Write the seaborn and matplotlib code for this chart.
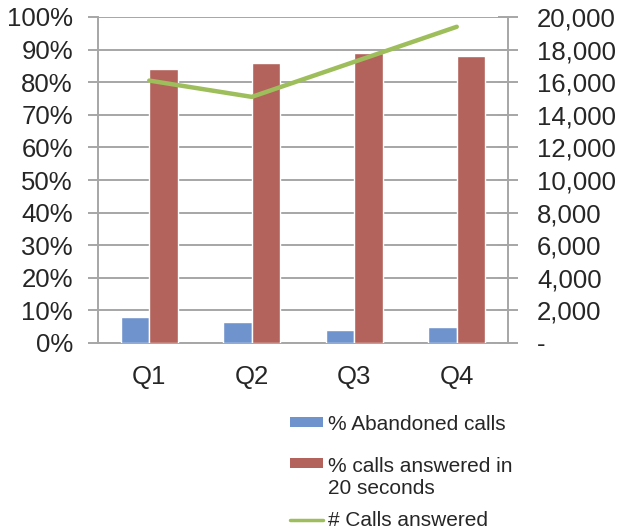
import matplotlib
matplotlib.use("Agg")
import matplotlib.pyplot as plt
import matplotlib.ticker as mticker
from matplotlib.patches import Rectangle
from matplotlib.lines import Line2D
import numpy as np
import pandas as pd
import seaborn as sns

# Quarterly call-centre figures
quarters = ["Q1", "Q2", "Q3", "Q4"]
abandoned_pct = [7.9, 6.3, 4.0, 4.8]
answered_20s_pct = [84, 86, 89, 88]
calls_answered = [16100, 15100, 17250, 19400]

series_abandoned = "% Abandoned calls"
series_answered = "% calls answered in\n20 seconds"
series_calls = "# Calls answered"

BLUE = "#6F94CD"
RED = "#B4625C"
GREEN = "#9DBE5A"
GRID = "#A6A6A6"
TEXT = "#262626"

sns.set_theme(style="white")
plt.rcParams["font.family"] = ["Liberation Sans", "DejaVu Sans"]

bars = pd.DataFrame({
    "quarter": quarters * 2,
    "series": [series_abandoned] * 4 + [series_answered] * 4,
    "value": abandoned_pct + answered_20s_pct,
})

W, H = 623, 531
fig = plt.figure(figsize=(W / 100, H / 100), dpi=100)
ax = fig.add_axes([98 / W, 1 - 343 / H, (508 - 98) / W, (343 - 17) / H])

sns.barplot(data=bars, x="quarter", y="value", hue="series",
            palette=[BLUE, RED], width=0.56, gap=0, saturation=1,
            legend=False, ax=ax, zorder=3)

ax.set_xlim(-0.5, 3.5)
ax.set_ylim(0, 100)
ax.set_xlabel("")
ax.set_ylabel("")
ax.yaxis.set_major_locator(mticker.MultipleLocator(10))
ax.yaxis.set_major_formatter(mticker.FuncFormatter(lambda v, p: f"{v:.0f}%"))
ax.grid(axis="y", color=GRID, linewidth=1.4, zorder=0)
ax.set_axisbelow(True)

# category boundaries carry the tick marks, labels sit in the middle
ax.set_xticks(range(len(quarters)))
ax.set_xticklabels(quarters)
ax.set_xticks(np.arange(-0.5, len(quarters)), minor=True)
ax.tick_params(axis="x", which="major", length=0, pad=16, labelsize=18.5, labelcolor=TEXT)
ax.tick_params(axis="x", which="minor", length=7, width=1.4, color=GRID, direction="out")
ax.tick_params(axis="y", length=7, width=1.4, color=GRID, direction="out",
               labelsize=18.5, labelcolor=TEXT, pad=11)

for side in ["top", "right"]:
    ax.spines[side].set_visible(False)
for side in ["left", "bottom"]:
    ax.spines[side].set_color(GRID)
    ax.spines[side].set_linewidth(1.4)

ax2 = ax.twinx()
sns.lineplot(x=np.arange(len(quarters)), y=calls_answered, color=GREEN,
             linewidth=3.2, ax=ax2)
ax2.set_ylim(0, 20000)
ax2.yaxis.set_major_locator(mticker.MultipleLocator(2000))
ax2.yaxis.set_major_formatter(
    mticker.FuncFormatter(lambda v, p: "-" if v == 0 else f"{v:,.0f}"))
ax2.tick_params(axis="y", length=14, width=1.4, color=GRID, direction="inout",
                labelsize=18.5, labelcolor=TEXT, pad=14)
for side in ["top", "left", "bottom"]:
    ax2.spines[side].set_visible(False)
ax2.spines["right"].set_color(GRID)
ax2.spines["right"].set_linewidth(1.4)
ax2.set_xlim(-0.5, 3.5)


# legend below the plot, keys aligned with the first line of each label
def fx(px):
    return px / W


def fy(py):
    return 1 - py / H


key_x0, key_x1, text_x = 290, 323, 328
fig.add_artist(Rectangle((fx(key_x0), fy(427)), fx(key_x1 - key_x0), 10 / H,
                         transform=fig.transFigure, facecolor=BLUE, edgecolor="none"))
fig.text(fx(text_x), fy(424), series_abandoned, fontsize=15, color=TEXT, va="center")

fig.add_artist(Rectangle((fx(key_x0), fy(468)), fx(key_x1 - key_x0), 10 / H,
                         transform=fig.transFigure, facecolor=RED, edgecolor="none"))
fig.text(fx(text_x), fy(477.5), series_answered, fontsize=15, color=TEXT,
         va="center", linespacing=1.2)

fig.add_artist(Line2D([fx(key_x0), fx(key_x1)], [fy(520), fy(520)],
                      transform=fig.transFigure, color=GREEN, linewidth=2.5))
fig.text(fx(text_x), fy(521), series_calls, fontsize=15, color=TEXT, va="center")

fig.savefig("out.png", dpi=100)
